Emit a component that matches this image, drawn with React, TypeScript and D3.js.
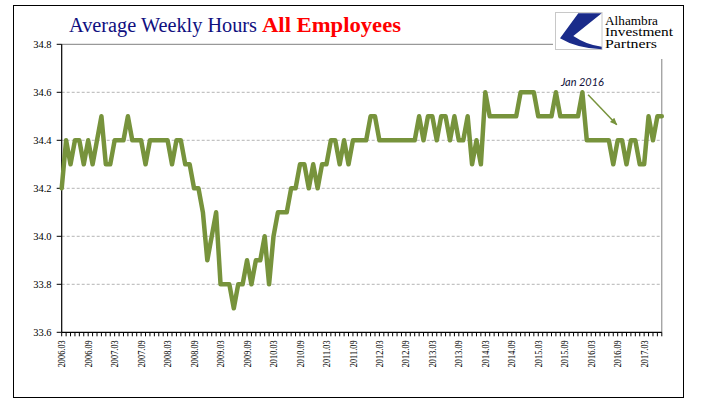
import React from 'react';
import * as d3 from 'd3';

// ---- data ----
const startYear = 2006;
const startMonth = 3;
const hours: number[] = [
  34.2, 34.4, 34.3, 34.4, 34.4, 34.3, 34.4, 34.3, 34.4, 34.5,
  34.3, 34.3, 34.4, 34.4, 34.4, 34.5, 34.4, 34.4, 34.4, 34.3,
  34.4, 34.4, 34.4, 34.4, 34.4, 34.3, 34.4, 34.4, 34.3, 34.3,
  34.2, 34.2, 34.1, 33.9, 34.0, 34.1, 33.8, 33.8, 33.8, 33.7,
  33.8, 33.8, 33.9, 33.8, 33.9, 33.9, 34.0, 33.8, 34.0, 34.1,
  34.1, 34.1, 34.2, 34.2, 34.3, 34.3, 34.2, 34.3, 34.2, 34.3,
  34.3, 34.4, 34.4, 34.3, 34.4, 34.3, 34.4, 34.4, 34.4, 34.4,
  34.5, 34.5, 34.4, 34.4, 34.4, 34.4, 34.4, 34.4, 34.4, 34.4,
  34.4, 34.5, 34.4, 34.5, 34.5, 34.4, 34.5, 34.5, 34.4, 34.5,
  34.4, 34.4, 34.5, 34.3, 34.4, 34.3, 34.6, 34.5, 34.5, 34.5,
  34.5, 34.5, 34.5, 34.5, 34.6, 34.6, 34.6, 34.6, 34.5, 34.5,
  34.5, 34.5, 34.6, 34.5, 34.5, 34.5, 34.5, 34.5, 34.6, 34.4,
  34.4, 34.4, 34.4, 34.4, 34.4, 34.3, 34.4, 34.4, 34.3, 34.4,
  34.4, 34.3, 34.3, 34.5, 34.4, 34.5, 34.5,
];
const months: string[] = hours.map((_, i) => {
  const m = startMonth - 1 + i;
  return `${startYear + Math.floor(m / 12)}.${String((m % 12) + 1).padStart(2, '0')}`;
});
const labelSuffixes = ['.03', '.09'];
const yTicks = [33.6, 33.8, 34.0, 34.2, 34.4, 34.6, 34.8];
const gridTicks = [33.8, 34.0, 34.2, 34.4, 34.6];
const titleA = 'Average Weekly Hours';
const titleB = 'All Employees';
const annotationText = 'Jan 2016';
const annotationMonth = '2016.01';
const annotationValue = 34.625;
const arrowFrom = { idx: 119.3, value: 34.59 };
const arrowTo = { idx: 125.8, value: 34.465 };
const logoLines = ['Alhambra', 'Investment', 'Partners'];
const logoWidths = [53, 68, 52];

// ---- layout ----
const W = 705;
const H = 409;
const left = 61.7;
const right = 661.8;
const top = 44.3;
const bottom = 332.3;

export default function App() {
  const x = d3.scaleLinear().domain([0, hours.length - 1]).range([left, right]);
  const y = d3.scaleLinear().domain([33.6, 34.8]).range([bottom, top]);
  const line = d3
    .line<number>()
    .x((_, i) => x(i))
    .y((d) => y(d));

  const serif = "'Liberation Serif', 'Times New Roman', serif";
  const annIdx = months.indexOf(annotationMonth);

  return (
    <svg
      width={W}
      height={H}
      viewBox={`0 0 ${W} ${H}`}
      style={{ position: 'absolute', left: 0, top: 0, background: '#fff' }}
    >
      <defs>
        <marker id="arr" viewBox="0 0 10 10" refX="9" refY="5" markerWidth="5" markerHeight="5" orient="auto">
          <path d="M0,1 L10,5 L0,9 Z" fill="#77933C" />
        </marker>
      </defs>
      {/* outer frame */}
      <rect x={13.5} y={5.5} width={670} height={392} fill="#fff" stroke="#000" strokeWidth={1} />

      {/* gridlines */}
      {gridTicks.map((t) => (
        <line
          key={t}
          x1={left}
          x2={right}
          y1={y(t)}
          y2={y(t)}
          stroke="#B4B4B4"
          strokeWidth={1}
          strokeDasharray="3,2"
        />
      ))}
      {/* plot border top/right */}
      <line x1={left} x2={right} y1={y(34.8)} y2={y(34.8)} stroke="#808080" strokeWidth={1} />
      <line x1={right} x2={right} y1={y(34.8)} y2={bottom} stroke="#808080" strokeWidth={1} />

      {/* y axis */}
      <line x1={left} x2={left} y1={top} y2={bottom} stroke="#000" strokeWidth={1.2} />
      {yTicks.map((t) => (
        <g key={t}>
          <line x1={left - 5} x2={left} y1={y(t)} y2={y(t)} stroke="#000" strokeWidth={1} />
          <text
            x={51.5}
            y={y(t)}
            dy="0.35em"
            textAnchor="end"
            fontFamily={serif}
            fontSize={10.5}
            fill="#000"
          >
            {t.toFixed(1)}
          </text>
        </g>
      ))}

      {/* x axis */}
      <line x1={left} x2={right} y1={bottom} y2={bottom} stroke="#000" strokeWidth={1.2} />
      {months.map((m, i) => (
        <line key={m} x1={x(i)} x2={x(i)} y1={bottom} y2={bottom + 4} stroke="#000" strokeWidth={1} />
      ))}
      {months.map((m, i) =>
        labelSuffixes.some((s) => m.endsWith(s)) ? (
          <text
            key={'l' + m}
            transform={`translate(${x(i) + 3.6},${bottom + 8}) rotate(-90)`}
            textAnchor="end"
            fontFamily={serif}
            fontSize={10.5}
            textLength={27}
            lengthAdjust="spacingAndGlyphs"
            fill="#000"
          >
            {m}
          </text>
        ) : null
      )}

      {/* series */}
      <path
        d={line(hours) || ''}
        fill="none"
        stroke="#77933C"
        strokeWidth={4.5}
        strokeLinejoin="round"
        strokeLinecap="round"
      />

      {/* annotation */}
      <text
        x={x(annIdx)}
        y={y(annotationValue)}
        textAnchor="middle"
        fontFamily="Lato, 'Open Sans', sans-serif"
        fontStyle="italic"
        fontSize={12}
        textLength={43}
        lengthAdjust="spacingAndGlyphs"
        fill="#10103a"
      >
        {annotationText}
      </text>
      <line
        x1={x(arrowFrom.idx)}
        y1={y(arrowFrom.value)}
        x2={x(arrowTo.idx)}
        y2={y(arrowTo.value)}
        stroke="#77933C"
        strokeWidth={1.5}
        markerEnd="url(#arr)"
      />

      {/* title */}
      <text x={69} y={32} fontFamily={serif} fontSize={20} fill="#10107f" textLength={188} lengthAdjust="spacingAndGlyphs">
        {titleA}
      </text>
      <text
        x={262}
        y={32}
        fontFamily={serif}
        fontSize={20}
        fontWeight="bold"
        fill="#FF0000"
        textLength={139}
        lengthAdjust="spacingAndGlyphs"
      >
        {titleB}
      </text>

      {/* logo */}
      <rect x={553} y={8} width={128} height={51} fill="#fff" />
      <rect x={555.5} y={12.5} width={46.5} height={37} fill="#fff" stroke="#C8C8C8" strokeWidth={1} />
      <path
        d="M578.3,13.3 L601.7,13.3 L573.3,36 Q586.7,45 601.7,46.7 L601.7,49.3 Q576.7,48.3 560,38.3 Z"
        fill="#1a2b8a"
      />
      {logoLines.map((t, i) => (
        <text
          key={t}
          x={605}
          y={24.5 + i * 11.8}
          fontFamily={serif}
          fontSize={13.5}
          textLength={logoWidths[i]}
          lengthAdjust="spacingAndGlyphs"
          fill="#000"
        >
          {t}
        </text>
      ))}
    </svg>
  );
}
